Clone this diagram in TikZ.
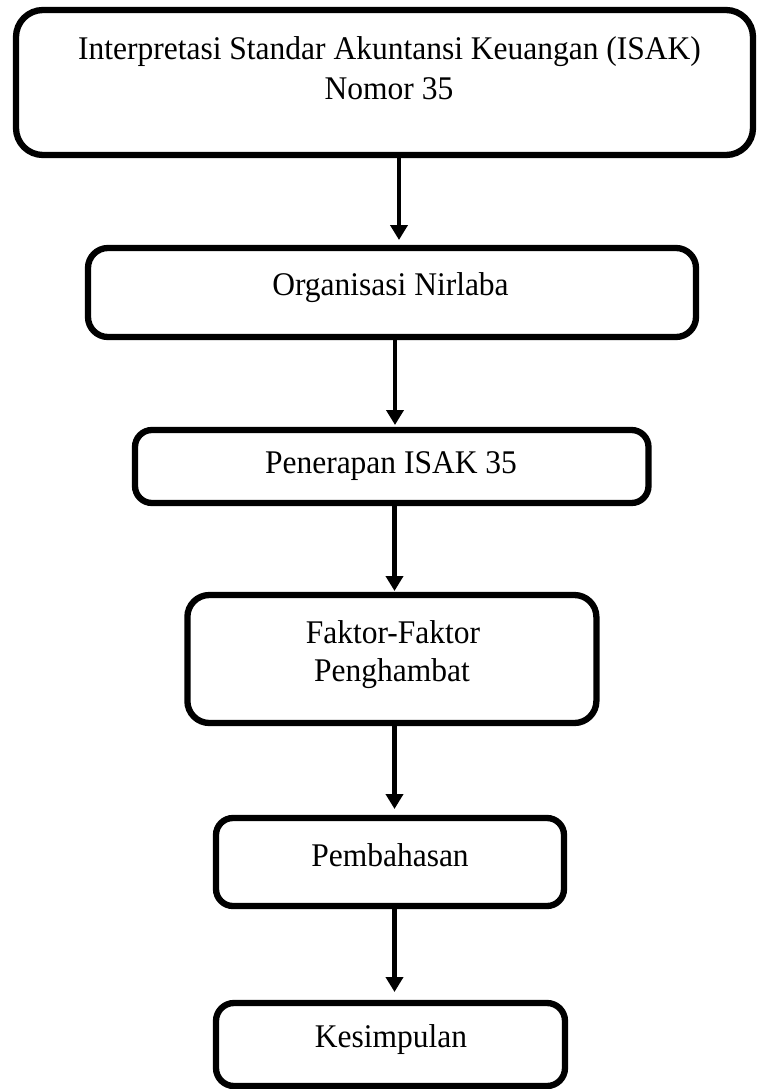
\documentclass[tikz,border=0pt]{standalone}
\usepackage{graphicx}
\usepackage{fontspec}
\setmainfont{Liberation Serif}
\usetikzlibrary{arrows.meta}
\newcommand\myvstretch[1]{\scalebox{1}[1.05]{#1}}
\begin{document}
\begin{tikzpicture}[x=1pt,y=-1pt,
  flowbox/.style={draw=black, line width=6.3pt, rounded corners=#1, inner sep=0pt, outer sep=0pt},
  txt/.style={font=\fontsize{31.5}{40}\selectfont, anchor=base, inner sep=0pt, text=black},
  arr/.style={draw=black, line width=4.5pt, -{Triangle[length=15pt,width=17pt]}}]
\useasboundingbox (0,0) rectangle (756,1089);
% boxes
\node[flowbox=27pt, minimum width=737pt, minimum height=145pt] (b1) at (384.5,82.5) {};
\node[flowbox=20pt, minimum width=608pt, minimum height=89pt] (b2) at (392,292.5) {};
\node[flowbox=17pt, minimum width=513.5pt, minimum height=73pt] (b3) at (391.75,466.5) {};
\node[flowbox=22pt, minimum width=409pt, minimum height=128pt] (b4) at (391.9,659) {};
\node[flowbox=17pt, minimum width=348pt, minimum height=88pt] (b5) at (390,862) {};
\node[flowbox=18pt, minimum width=349pt, minimum height=83pt] (b6) at (390.5,1044.5) {};
% texts
\node[txt] (t1a) at (389.5,60) {\myvstretch{Interpretasi Standar Akuntansi Keuangan (ISAK)}};
\node[txt] (t1b) at (389,100) {\myvstretch{Nomor 35}};
\node[txt] (t2) at (390.5,295) {\myvstretch{Organisasi Nirlaba}};
\node[txt] (t3) at (391,473) {\myvstretch{Penerapan ISAK 35}};
\node[txt] (t4a) at (393,643) {\myvstretch{Faktor-Faktor}};
\node[txt] (t4b) at (392,681) {\myvstretch{Penghambat}};
\node[txt] (t5) at (390,866) {\myvstretch{Pembahasan}};
\node[txt] (t6) at (391,1047) {\myvstretch{Kesimpulan}};
% arrows
\coordinate (ax1) at (399,0);
\coordinate (ax2) at (395,0);
\coordinate (ax3) at (394.5,0);
\draw[arr, shorten >=8pt] (b1.south -| ax1) -- (b2.north -| ax1);
\draw[arr, shorten >=5pt] (b2.south -| ax2) -- (b3.north -| ax2);
\draw[arr, shorten >=4pt] (b3.south -| ax3) -- (b4.north -| ax3);
\draw[arr, shorten >=9pt] (b4.south -| ax3) -- (b5.north -| ax3);
\draw[arr, shorten >=11pt] (b5.south -| ax3) -- (b6.north -| ax3);
\end{tikzpicture}
\end{document}
